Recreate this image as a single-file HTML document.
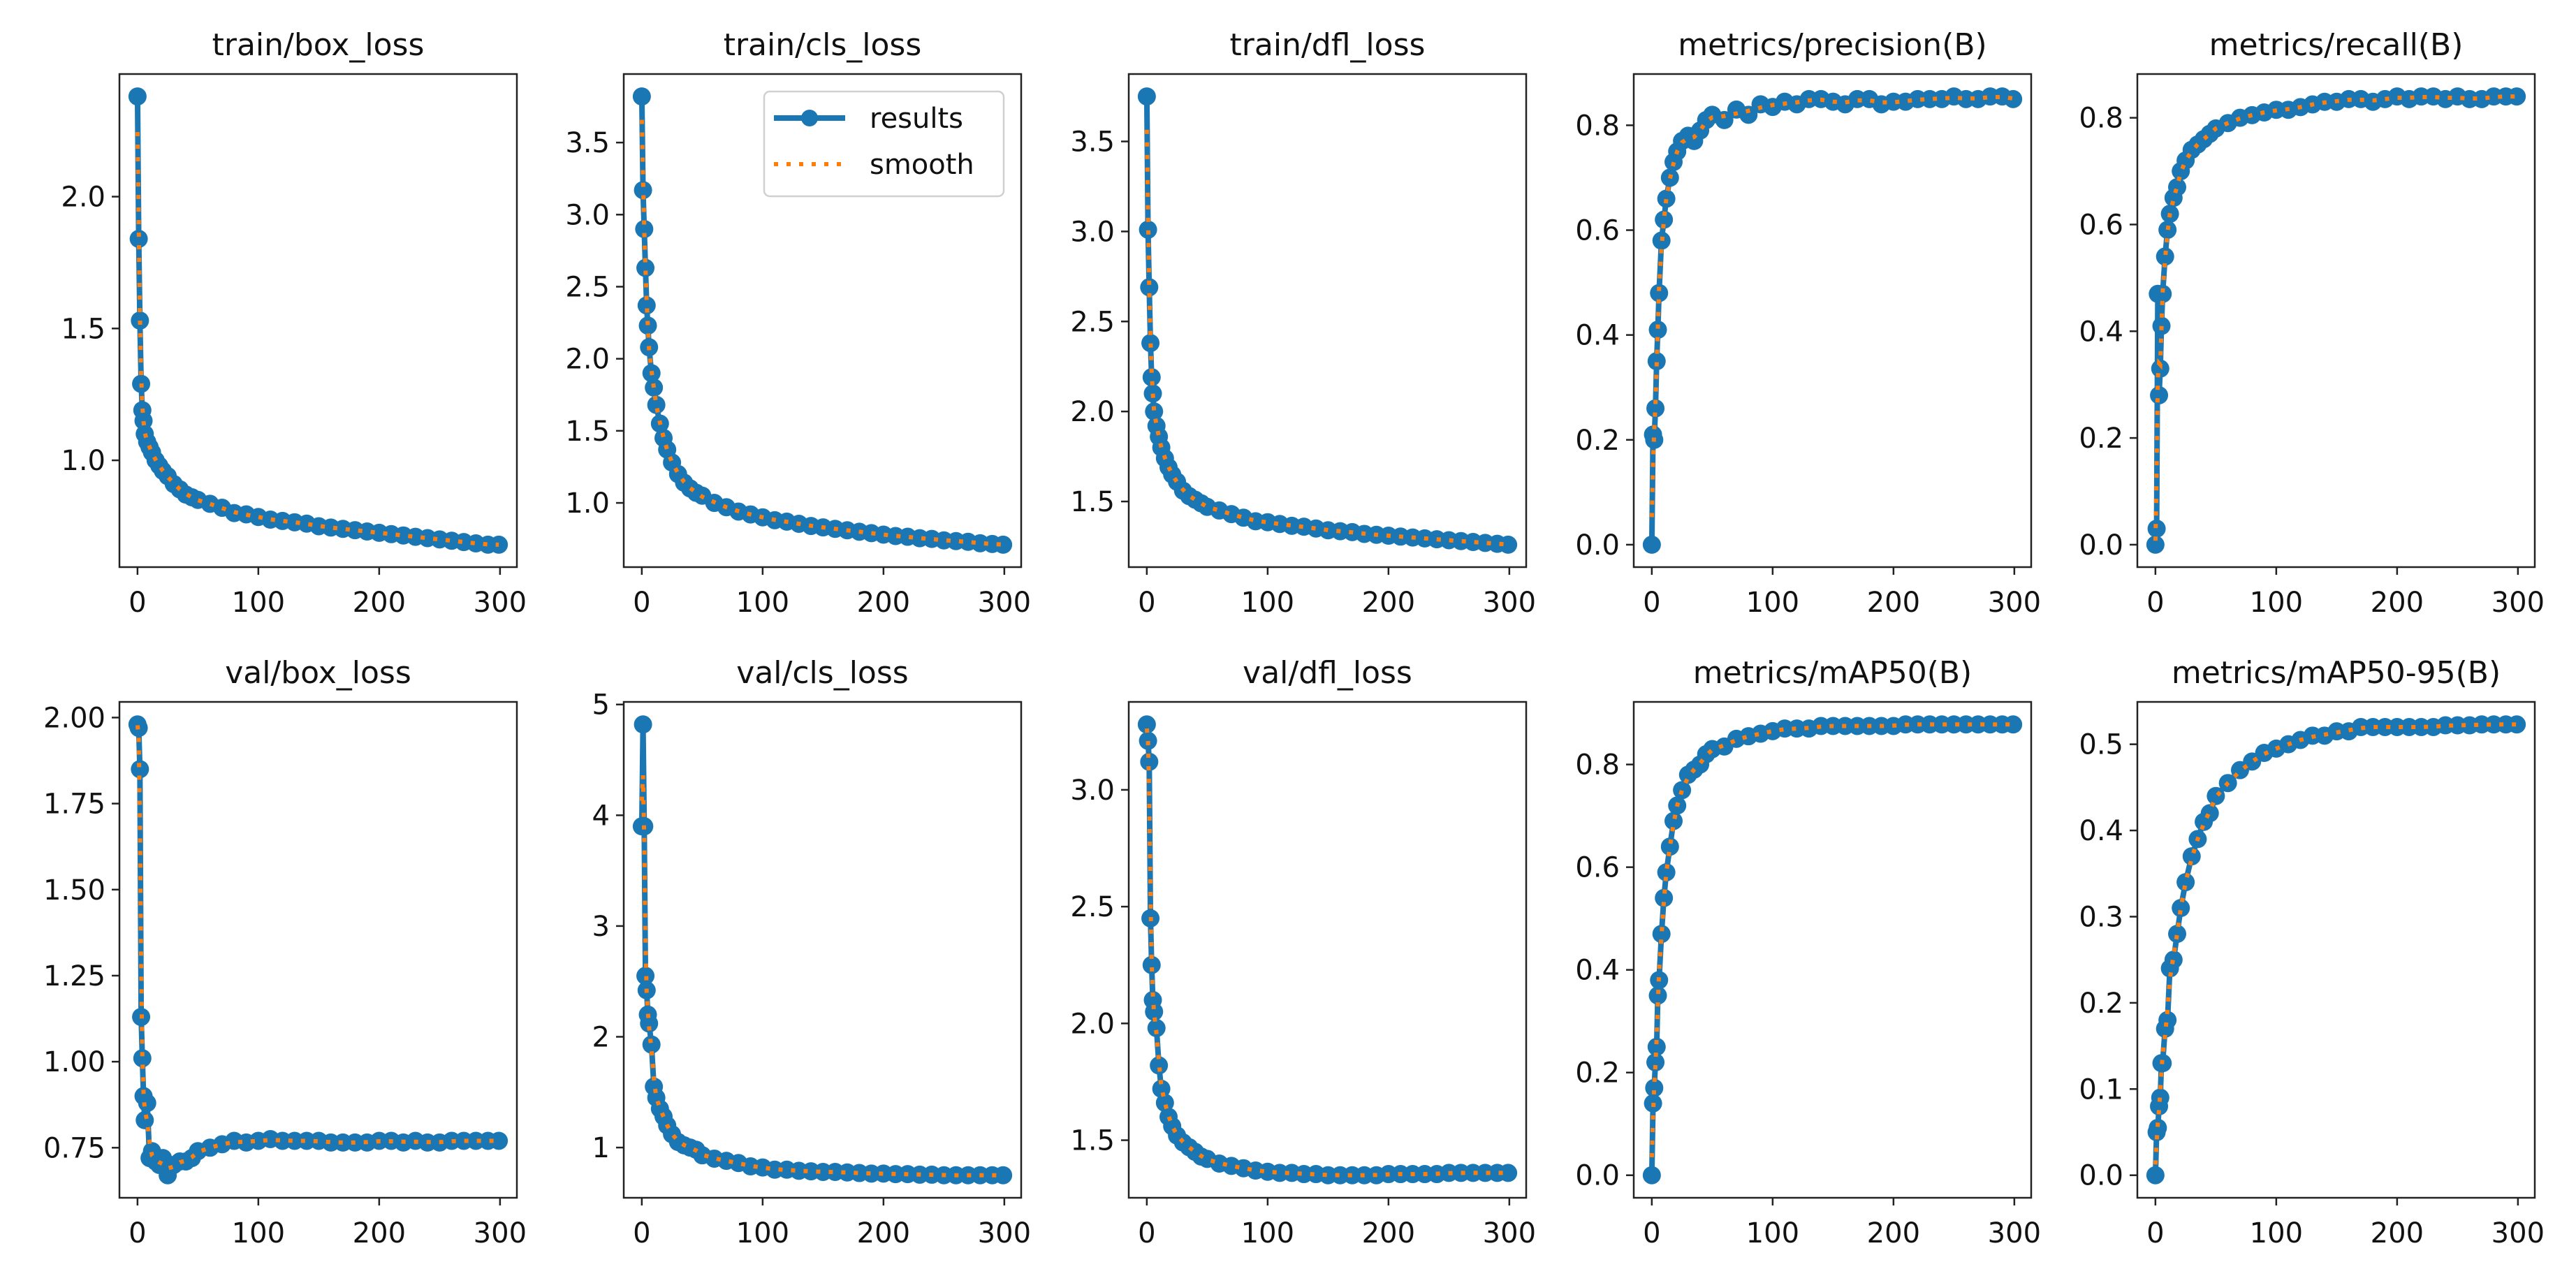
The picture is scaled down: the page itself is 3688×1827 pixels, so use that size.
<!DOCTYPE html>
<html><head><meta charset="utf-8"><style>
html,body{margin:0;padding:0;background:#fff;}
svg{display:block;font-family:"DejaVu Sans","Liberation Sans",sans-serif;}
</style></head><body>
<svg id="fig" width="3688" height="1827" viewBox="0 0 3688 1827" xmlns="http://www.w3.org/2000/svg">
<rect width="3688" height="1827" fill="#fff"/>
</svg>
<script>
const epochs=[0,1,2,3,4,5,6,8,10,12,15,18,21,25,30,35,40,45,50,60,70,80,90,100,110,120,130,140,150,160,170,180,190,200,210,220,230,240,250,260,270,280,290,299];
const titles=["train/box_loss","train/cls_loss","train/dfl_loss","metrics/precision(B)","metrics/recall(B)","val/box_loss","val/cls_loss","val/dfl_loss","metrics/mAP50(B)","metrics/mAP50-95(B)"];
const trainBox=[2.38,1.84,1.53,1.29,1.19,1.15,1.10,1.07,1.05,1.03,1.00,0.98,0.96,0.94,0.91,0.89,0.87,0.86,0.85,0.835,0.82,0.80,0.795,0.785,0.775,0.77,0.765,0.76,0.75,0.745,0.74,0.735,0.73,0.725,0.72,0.715,0.71,0.705,0.70,0.695,0.69,0.685,0.68,0.68];
const trainCls=[3.82,3.17,2.90,2.63,2.37,2.23,2.08,1.90,1.80,1.68,1.55,1.45,1.37,1.28,1.20,1.14,1.10,1.07,1.05,1.00,0.97,0.94,0.92,0.90,0.88,0.87,0.855,0.84,0.83,0.82,0.81,0.80,0.79,0.78,0.77,0.765,0.755,0.75,0.74,0.735,0.73,0.72,0.715,0.71];
const trainDfl=[3.75,3.01,2.69,2.38,2.19,2.10,2.00,1.92,1.86,1.80,1.74,1.69,1.65,1.61,1.56,1.53,1.51,1.49,1.47,1.45,1.43,1.41,1.39,1.385,1.375,1.365,1.36,1.35,1.34,1.335,1.33,1.32,1.315,1.31,1.305,1.30,1.295,1.29,1.285,1.28,1.275,1.27,1.265,1.26];
const precision=[0,0.21,0.20,0.26,0.35,0.41,0.48,0.58,0.62,0.66,0.70,0.73,0.75,0.77,0.78,0.77,0.79,0.81,0.82,0.81,0.83,0.82,0.84,0.835,0.845,0.84,0.85,0.85,0.845,0.84,0.85,0.85,0.84,0.845,0.845,0.85,0.85,0.85,0.855,0.85,0.85,0.855,0.855,0.85];
const recall=[0,0.03,0.47,0.28,0.33,0.41,0.47,0.54,0.59,0.62,0.65,0.67,0.70,0.72,0.74,0.75,0.76,0.77,0.78,0.79,0.80,0.805,0.81,0.815,0.815,0.82,0.825,0.83,0.83,0.835,0.835,0.83,0.835,0.84,0.835,0.84,0.84,0.835,0.84,0.835,0.835,0.84,0.84,0.84];
const valBox=[1.98,1.97,1.85,1.13,1.01,0.90,0.83,0.88,0.72,0.74,0.71,0.70,0.72,0.67,0.70,0.71,0.71,0.72,0.74,0.75,0.76,0.77,0.765,0.77,0.775,0.77,0.77,0.77,0.77,0.765,0.765,0.765,0.765,0.77,0.77,0.765,0.77,0.765,0.765,0.77,0.77,0.77,0.77,0.77];
const valCls=[3.90,4.82,3.90,2.55,2.42,2.20,2.12,1.93,1.55,1.45,1.35,1.28,1.20,1.12,1.05,1.02,1.00,0.98,0.93,0.90,0.88,0.86,0.83,0.82,0.80,0.80,0.79,0.785,0.78,0.78,0.775,0.77,0.765,0.765,0.76,0.76,0.755,0.755,0.75,0.75,0.75,0.75,0.75,0.75];
const valDfl=[3.28,3.21,3.12,2.45,2.25,2.10,2.05,1.98,1.82,1.72,1.66,1.60,1.56,1.52,1.49,1.47,1.45,1.43,1.42,1.40,1.39,1.38,1.37,1.365,1.36,1.36,1.355,1.355,1.35,1.35,1.35,1.35,1.35,1.355,1.355,1.355,1.355,1.355,1.36,1.36,1.36,1.36,1.36,1.36];
const map50=[0,0.14,0.17,0.22,0.25,0.35,0.38,0.47,0.54,0.59,0.64,0.69,0.72,0.75,0.78,0.79,0.80,0.82,0.83,0.835,0.85,0.855,0.86,0.865,0.87,0.87,0.87,0.875,0.875,0.875,0.875,0.875,0.875,0.875,0.878,0.878,0.878,0.878,0.878,0.878,0.878,0.878,0.878,0.878];
const map5095=[0,0.05,0.055,0.08,0.09,0.13,0.13,0.17,0.18,0.24,0.25,0.28,0.31,0.34,0.37,0.39,0.41,0.42,0.44,0.455,0.47,0.48,0.49,0.495,0.50,0.505,0.51,0.51,0.515,0.515,0.52,0.52,0.52,0.52,0.52,0.52,0.52,0.522,0.522,0.522,0.523,0.523,0.523,0.523];
const xTicks=[0,100,200,300];
const yTicks=[[1.0,1.5,2.0],[1.0,1.5,2.0,2.5,3.0,3.5],[1.5,2.0,2.5,3.0,3.5],[0.0,0.2,0.4,0.6,0.8],[0.0,0.2,0.4,0.6,0.8],[0.75,1.00,1.25,1.50,1.75,2.00],[1,2,3,4,5],[1.5,2.0,2.5,3.0],[0.0,0.2,0.4,0.6,0.8],[0.0,0.1,0.2,0.3,0.4,0.5]];
const yDecimals=[1,1,1,1,1,2,0,1,1,1];
const series=[trainBox,trainCls,trainDfl,precision,recall,valBox,valCls,valDfl,map50,map5095];

const NS="http://www.w3.org/2000/svg";
const svg=document.getElementById('fig');
const lefts=[171,893,1616,2339,3060], W=569;
const tops=[106,1005], bottoms=[812,1715];
const BLUE="#1a77b4", ORANGE="#ff7f0e";
function mk(tag,attrs,parent){const e=document.createElementNS(NS,tag);for(const k in attrs)e.setAttribute(k,attrs[k]);(parent||svg).appendChild(e);return e;}
function slug(s){return s.replace(/[^a-zA-Z0-9]+/g,'-').replace(/^-|-$/g,'').toLowerCase();}

for(let p=0;p<10;p++){
  const row=Math.floor(p/5), col=p%5;
  const L=lefts[col], R=L+W, T=tops[row], B=bottoms[row];
  const vals=series[p];
  const g=mk('g',{});
  
  
  const xmin=Math.min(...epochs), xmax=Math.max(...epochs), xr=xmax-xmin;
  const x0=xmin-0.05*xr, x1=xmax+0.05*xr;
  const ymin=Math.min(...vals), ymax=Math.max(...vals), yr=ymax-ymin;
  const y0=ymin-0.05*yr, y1=ymax+0.05*yr;
  const sx=v=>L+(v-x0)/(x1-x0)*W;
  const sy=v=>B-(v-y0)/(y1-y0)*(B-T);
  const t=mk('text',{x:(L+R)/2,y:T-27,'text-anchor':'middle','font-size':44,fill:'#111'},g);
  t.textContent=titles[p];
  
  
  xTicks.forEach(v=>{
    const x=sx(v);
    const tk=mk('line',{x1:x,x2:x,y1:B,y2:B+11,stroke:'#222','stroke-width':2.5},g);
    
    
    const tl=mk('text',{x:x,y:B+64,'text-anchor':'middle','font-size':40,fill:'#111'},g);
    tl.textContent=String(v);
    
    
  });
  yTicks[p].forEach(v=>{
    const y=sy(v);
    if(y<T-1||y>B+1)return;
    const tk=mk('line',{x1:L-11,x2:L,y1:y,y2:y,stroke:'#222','stroke-width':2.5},g);
    
    
    const tl=mk('text',{x:L-20,y:y+14,'text-anchor':'end','font-size':40,fill:'#111'},g);
    tl.textContent=v.toFixed(yDecimals[p]);
    
    
  });
  const pts=epochs.map((e,i)=>sx(e).toFixed(1)+','+sy(vals[i]).toFixed(1)).join(' ');
  const ln=mk('polyline',{points:pts,fill:'none',stroke:BLUE,'stroke-width':8,'stroke-linejoin':'round'},g);
  
  
  epochs.forEach((e,i)=>{
    const c=mk('circle',{cx:sx(e),cy:sy(vals[i]),r:13,fill:BLUE},g);
    
    
  });
  const sm=vals.map((v,i)=>{const a=vals[Math.max(0,i-1)],b=vals[Math.min(vals.length-1,i+1)];return (a+2*v+b)/4;});
  const spts=epochs.map((e,i)=>sx(e).toFixed(1)+','+sy(sm[i]).toFixed(1)).join(' ');
  const sl=mk('polyline',{points:spts,fill:'none',stroke:ORANGE,'stroke-width':6,'stroke-dasharray':'6 12'},g);
  
  
  const fr=mk('rect',{x:L,y:T,width:W,height:B-T,fill:'none',stroke:'#222','stroke-width':2.5},g);
  
  
}
const lg=mk('g',{});


const lb=mk('rect',{x:1094,y:131,width:343,height:150,rx:8,fill:'#fff','fill-opacity':0.85,stroke:'#d0d0d0','stroke-width':2.5},lg);


const l1=mk('line',{x1:1108,x2:1210,y1:169,y2:169,stroke:BLUE,'stroke-width':8},lg);


const l1c=mk('circle',{cx:1159,cy:169,r:12,fill:BLUE},lg);


const t1=mk('text',{x:1245,y:183,'font-size':40,fill:'#111'},lg);
t1.textContent='results';


const l2=mk('line',{x1:1108,x2:1210,y1:235,y2:235,stroke:ORANGE,'stroke-width':6,'stroke-dasharray':'6 12'},lg);


const t2=mk('text',{x:1245,y:249,'font-size':40,fill:'#111'},lg);
t2.textContent='smooth';


</script>
</body></html>
